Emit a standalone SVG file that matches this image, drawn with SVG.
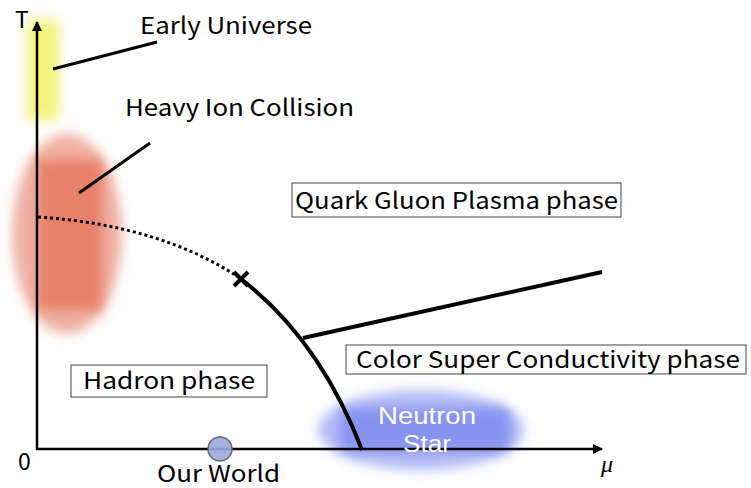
<svg xmlns="http://www.w3.org/2000/svg" width="751" height="488" viewBox="0 0 751 488">
<defs>
<style>
.t{font-family:"Noto Sans CJK JP","Noto Sans",sans-serif;font-size:23px;fill:#000}
.w{font-family:"Liberation Sans",Arial,sans-serif;font-size:23px;fill:#fff}
.box{fill:#fff;stroke:#444;stroke-width:1}
.ln{stroke:#000;fill:none}
</style>
<filter id="blur" x="-50%" y="-50%" width="200%" height="200%"><feGaussianBlur stdDeviation="6"/></filter>
<marker id="arr" viewBox="0 0 10 10" refX="9" refY="5" markerWidth="4" markerHeight="4" orient="auto" markerUnits="strokeWidth"><path d="M0,0L10,5L0,10z" fill="#000"/></marker>
</defs>
<rect width="751" height="488" fill="#fff"/>
<g id="glows">
<rect x="27" y="20" width="32" height="100" fill="#f4f27a" filter="url(#blur)"/>
<ellipse cx="67" cy="234" rx="55" ry="100" fill="#efb0a2" filter="url(#blur)"/>
<rect x="38" y="160" width="64" height="150" fill="#e8806a" filter="url(#blur)"/>
<ellipse cx="421" cy="430" rx="103" ry="40" fill="#b4bcf6" filter="url(#blur)"/>
<rect x="340" y="408" width="170" height="44" rx="10" fill="#8892f0" filter="url(#blur)"/>
</g>
<g id="axes">
<line x1="37" y1="450" x2="37" y2="22" class="ln" stroke-width="2.5" marker-end="url(#arr)"/>
<line x1="36" y1="449" x2="602" y2="449" class="ln" stroke-width="2.5" marker-end="url(#arr)"/>
<text class="t" x="15" y="28">T</text>
<text class="t" x="18" y="470">0</text>
<text x="601" y="472" font-family="Liberation Serif,serif" font-style="italic" font-size="24">μ</text>
</g>
<g id="connectors">
<line x1="53" y1="69" x2="157" y2="42" class="ln" stroke-width="3"/>
<line x1="79" y1="193" x2="150" y2="143" class="ln" stroke-width="3"/>
<path d="M38,217 Q160,225 240,278" class="ln" stroke-width="3" stroke-dasharray="3,3"/>
<path d="M241,279 Q320,340 362,450" class="ln" stroke-width="4"/>
<line x1="303" y1="338" x2="602" y2="272" class="ln" stroke-width="4"/>
<path d="M234,272L248,286M248,272L234,286" class="ln" stroke-width="4"/>
</g>
<g id="early-universe"><text class="t" x="140" y="34" textLength="172" lengthAdjust="spacingAndGlyphs">Early Universe</text></g>
<g id="heavy-ion"><text class="t" x="125" y="116" textLength="229" lengthAdjust="spacingAndGlyphs">Heavy Ion Collision</text></g>
<g id="qgp">
<rect class="box" x="292" y="183" width="329" height="34"/>
<text class="t" x="295" y="209" textLength="323" lengthAdjust="spacingAndGlyphs">Quark Gluon Plasma phase</text>
</g>
<g id="csc">
<rect class="box" x="346" y="345" width="400" height="29"/>
<text class="t" x="356" y="368" textLength="384" lengthAdjust="spacingAndGlyphs">Color Super Conductivity phase</text>
</g>
<g id="hadron">
<rect class="box" x="71" y="365" width="196" height="32"/>
<text class="t" x="83" y="389" textLength="172" lengthAdjust="spacingAndGlyphs">Hadron phase</text>
</g>
<g id="neutron-star">
<text class="w" x="378" y="424" textLength="98" lengthAdjust="spacingAndGlyphs">Neutron</text>
<text class="w" x="403" y="452" textLength="48" lengthAdjust="spacingAndGlyphs">Star</text>
</g>
<g id="our-world">
<circle cx="220" cy="449" r="12" fill="#9aa8de" fill-opacity="0.9" stroke="#666" stroke-width="1.5"/>
<text class="t" x="157" y="482" textLength="123" lengthAdjust="spacingAndGlyphs">Our World</text>
</g>
</svg>
